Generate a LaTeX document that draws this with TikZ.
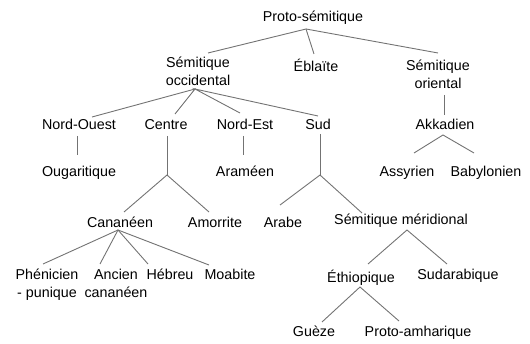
\documentclass[tikz,border=0pt]{standalone}
\usepackage{fontspec}
\setmainfont{Liberation Sans}
\begin{document}
\begin{tikzpicture}[x=1pt,y=1pt,
  lang/.style={anchor=base,inner sep=0pt,font=\fontsize{14.3}{18}\selectfont,align=center},
  branch/.style={draw={rgb,255:red,115;green,115;blue,115},line width=0.9pt}]
\useasboundingbox (0,0) rectangle (530,343);
% nodes (multi-line nodes are placed by the baseline of their last line)
\node[lang] (P) at (313,321) {Proto-sémitique};
\node[lang] (SO) at (198,257) {Sémitique\\occidental};
\node[lang] (E) at (316,271) {Éblaïte};
\node[lang] (SOr) at (438,254) {Sémitique\\oriental};
\node[lang] (NO) at (79,213) {Nord-Ouest};
\node[lang] (C) at (166,213) {Centre};
\node[lang] (NE) at (245,213) {Nord-Est};
\node[lang] (S) at (318,213) {Sud};
\node[lang] (A) at (445,213) {Akkadien};
\node[lang] (Oug) at (79,166) {Ougaritique};
\node[lang] (Ar) at (245,166) {Araméen};
\node[lang] (As) at (407,166) {Assyrien};
\node[lang] (Ba) at (486,166) {Babylonien};
\node[lang] (Ca) at (120,116) {Cananéen};
\node[lang] (Am) at (215,116) {Amorrite};
\node[lang] (Ara) at (283,116) {Arabe};
\node[lang] (SM) at (401,118) {Sémitique méridional};
\node[lang] (Ph) at (47,46) {Phénicien\\- punique};
\node[lang] (An) at (116,46) {Ancien\\cananéen};
\node[lang] (He) at (170,64) {Hébreu};
\node[lang] (Mo) at (230,64) {Moabite};
\node[lang] (Et) at (361,61) {Éthiopique};
\node[lang] (Su) at (458,64) {Sudarabique};
\node[lang] (G) at (314,7) {Guèze};
\node[lang] (PA) at (418,7) {Proto-amharique};
\coordinate (jC) at (167,168);
\coordinate (jS) at (320,168);
% connectors
\draw[branch] ([shift={(10,33)}]SO.base) -- ([shift={(-7,-7)}]P.base) -- ([shift={(-2,18)}]E.base);
\draw[branch] ([shift={(-7,-7)}]P.base) -- ([shift={(0,36)}]SOr.base);
\draw[branch] ([shift={(13,13)}]NO.base) -- ([shift={(-3,-3)}]SO.base) -- ([shift={(9,16)}]C.base);
\draw[branch] ([shift={(-5,17)}]NE.base) -- ([shift={(-3,-3)}]SO.base) -- ([shift={(0,14)}]S.base);
\draw[branch] ([shift={(-2,-6)}]NO.base) -- ([shift={(-2,22)}]Oug.base);
\draw[branch] ([shift={(1,-6)}]C.base) -- (jC);
\draw[branch] ([shift={(4,15)}]Ca.base) -- (jC) -- ([shift={(-6,15)}]Am.base);
\draw[branch] ([shift={(-2,-6)}]NE.base) -- ([shift={(-2,22)}]Ar.base);
\draw[branch] ([shift={(2,-4)}]S.base) -- (jS);
\draw[branch] ([shift={(-3,22)}]Ara.base) -- (jS) -- ([shift={(-39,12)}]SM.base);
\draw[branch] ([shift={(6,-6)}]SOr.base) -- ([shift={(-1,15)}]A.base);
\draw[branch] ([shift={(7,24)}]As.base) -- ([shift={(-2,-5)}]A.base) -- ([shift={(-12,24)}]Ba.base);
\draw[branch] ([shift={(-4,33)}]Ph.base) -- ([shift={(-2,-3)}]Ca.base) -- ([shift={(-21,14)}]Mo.base);
\draw[branch] ([shift={(-16,33)}]An.base) -- ([shift={(-2,-3)}]Ca.base) -- ([shift={(-22,15)}]He.base);
\draw[branch] ([shift={(7,18)}]Et.base) -- ([shift={(6,-5)}]SM.base) -- ([shift={(-11,15)}]Su.base);
\draw[branch] ([shift={(8,14)}]G.base) -- ([shift={(-1,-5)}]Et.base) -- ([shift={(-19,15)}]PA.base);
\end{tikzpicture}
\end{document}
